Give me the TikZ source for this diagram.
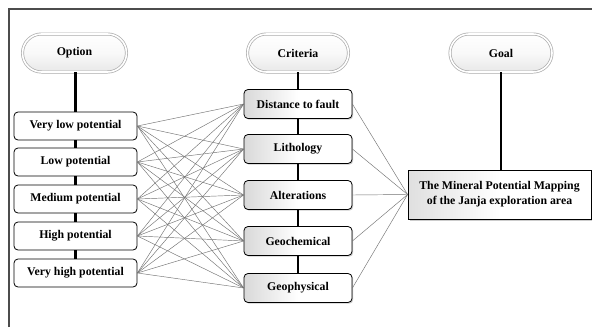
\documentclass[tikz,border=0pt]{standalone}
\usepackage{fontspec}
\setmainfont{Liberation Serif}
\usetikzlibrary{shadows}
\begin{document}
\begin{tikzpicture}[x=1pt,y=-1pt,
  txt/.style={font=\bfseries\fontsize{11.8}{15}\selectfont, align=center, text=black},
  pill/.style={txt, rounded corners=19pt, minimum height=38pt, draw=gray!65, line width=0.7pt,
    double=white, double distance=1.6pt, top color=white, bottom color=gray!18, middle color=white!95!gray},
  optbox/.style={txt, rounded corners=4pt, draw=black, line width=0.8pt, fill=white,
    minimum width=123pt, minimum height=28pt, inner sep=0pt},
  critbox/.style={txt, rounded corners=4pt, draw=black, line width=0.8pt,
    left color=gray!30, right color=white, middle color=white,
    minimum width=108pt, minimum height=29pt, inner sep=0pt,
    drop shadow={shadow xshift=1.2pt, shadow yshift=-1.2pt, opacity=0.4}},
  goalbox/.style={txt, draw=black, line width=0.8pt,
    left color=gray!25, right color=white, middle color=white,
    minimum width=183pt, minimum height=49pt, inner sep=0pt,
    drop shadow={shadow xshift=1.5pt, shadow yshift=-1.5pt, opacity=0.4}},
  thick/.style={line width=2.6pt, black},
  thin/.style={line width=0.45pt, black!55}]
\useasboundingbox (0,0) rectangle (592,327);
\fill[white] (0,0) rectangle (592,327);
% frame
\draw[line width=1.4pt, black!70] (9,327) -- (9,9) -- (592,9);

% pills
\node[pill, minimum width=104pt] (opt) at (74.5,53) {Option};
\node[pill, minimum width=101pt] (crit) at (298,53) {Criteria};
\node[pill, minimum width=102pt] (goal) at (501,53) {Goal};

% option boxes
\node[optbox] (o1) at (75.5,126) {Very low potential};
\node[optbox] (o2) at (75.5,162) {Low potential};
\node[optbox] (o3) at (75.5,199) {Medium potential};
\node[optbox] (o4) at (75.5,236) {High potential};
\node[optbox] (o5) at (75.5,273) {Very high potential};

% criteria boxes
\node[critbox] (c1) at (298,104) {Distance to fault};
\node[critbox] (c2) at (298,149) {Lithology};
\node[critbox] (c3) at (298,195) {Alterations};
\node[critbox] (c4) at (298,241) {Geochemical};
\node[critbox] (c5) at (298,288) {Geophysical};

% goal box
\node[goalbox] (g) at (499.5,194.5) {The Mineral Potential Mapping\\of the Janja exploration area};

% thick spines
\draw[thick] (opt.south -| o1.north) -- (o1.north);
\draw[thick] (o1.south) -- (o2.north);
\draw[thick] (o2.south) -- (o3.north);
\draw[thick] (o3.south) -- (o4.north);
\draw[thick] (o4.south) -- (o5.north);
\draw[thick] (crit.south) -- (c1.north);
\draw[thick] (c1.south) -- (c2.north);
\draw[thick] (c2.south) -- (c3.north);
\draw[thick] (c3.south) -- (c4.north);
\draw[thick] (c4.south) -- (c5.north);
\draw[thick] (goal.south) -- (g.north -| goal.south);

% thin connectors
\foreach \i in {1,...,5}{
  \foreach \j in {1,...,5}{
    \draw[thin] (o\i.east) -- (c\j.west);
  }
  \draw[thin] (c\i.east) -- (g.west);
}
\end{tikzpicture}
\end{document}
